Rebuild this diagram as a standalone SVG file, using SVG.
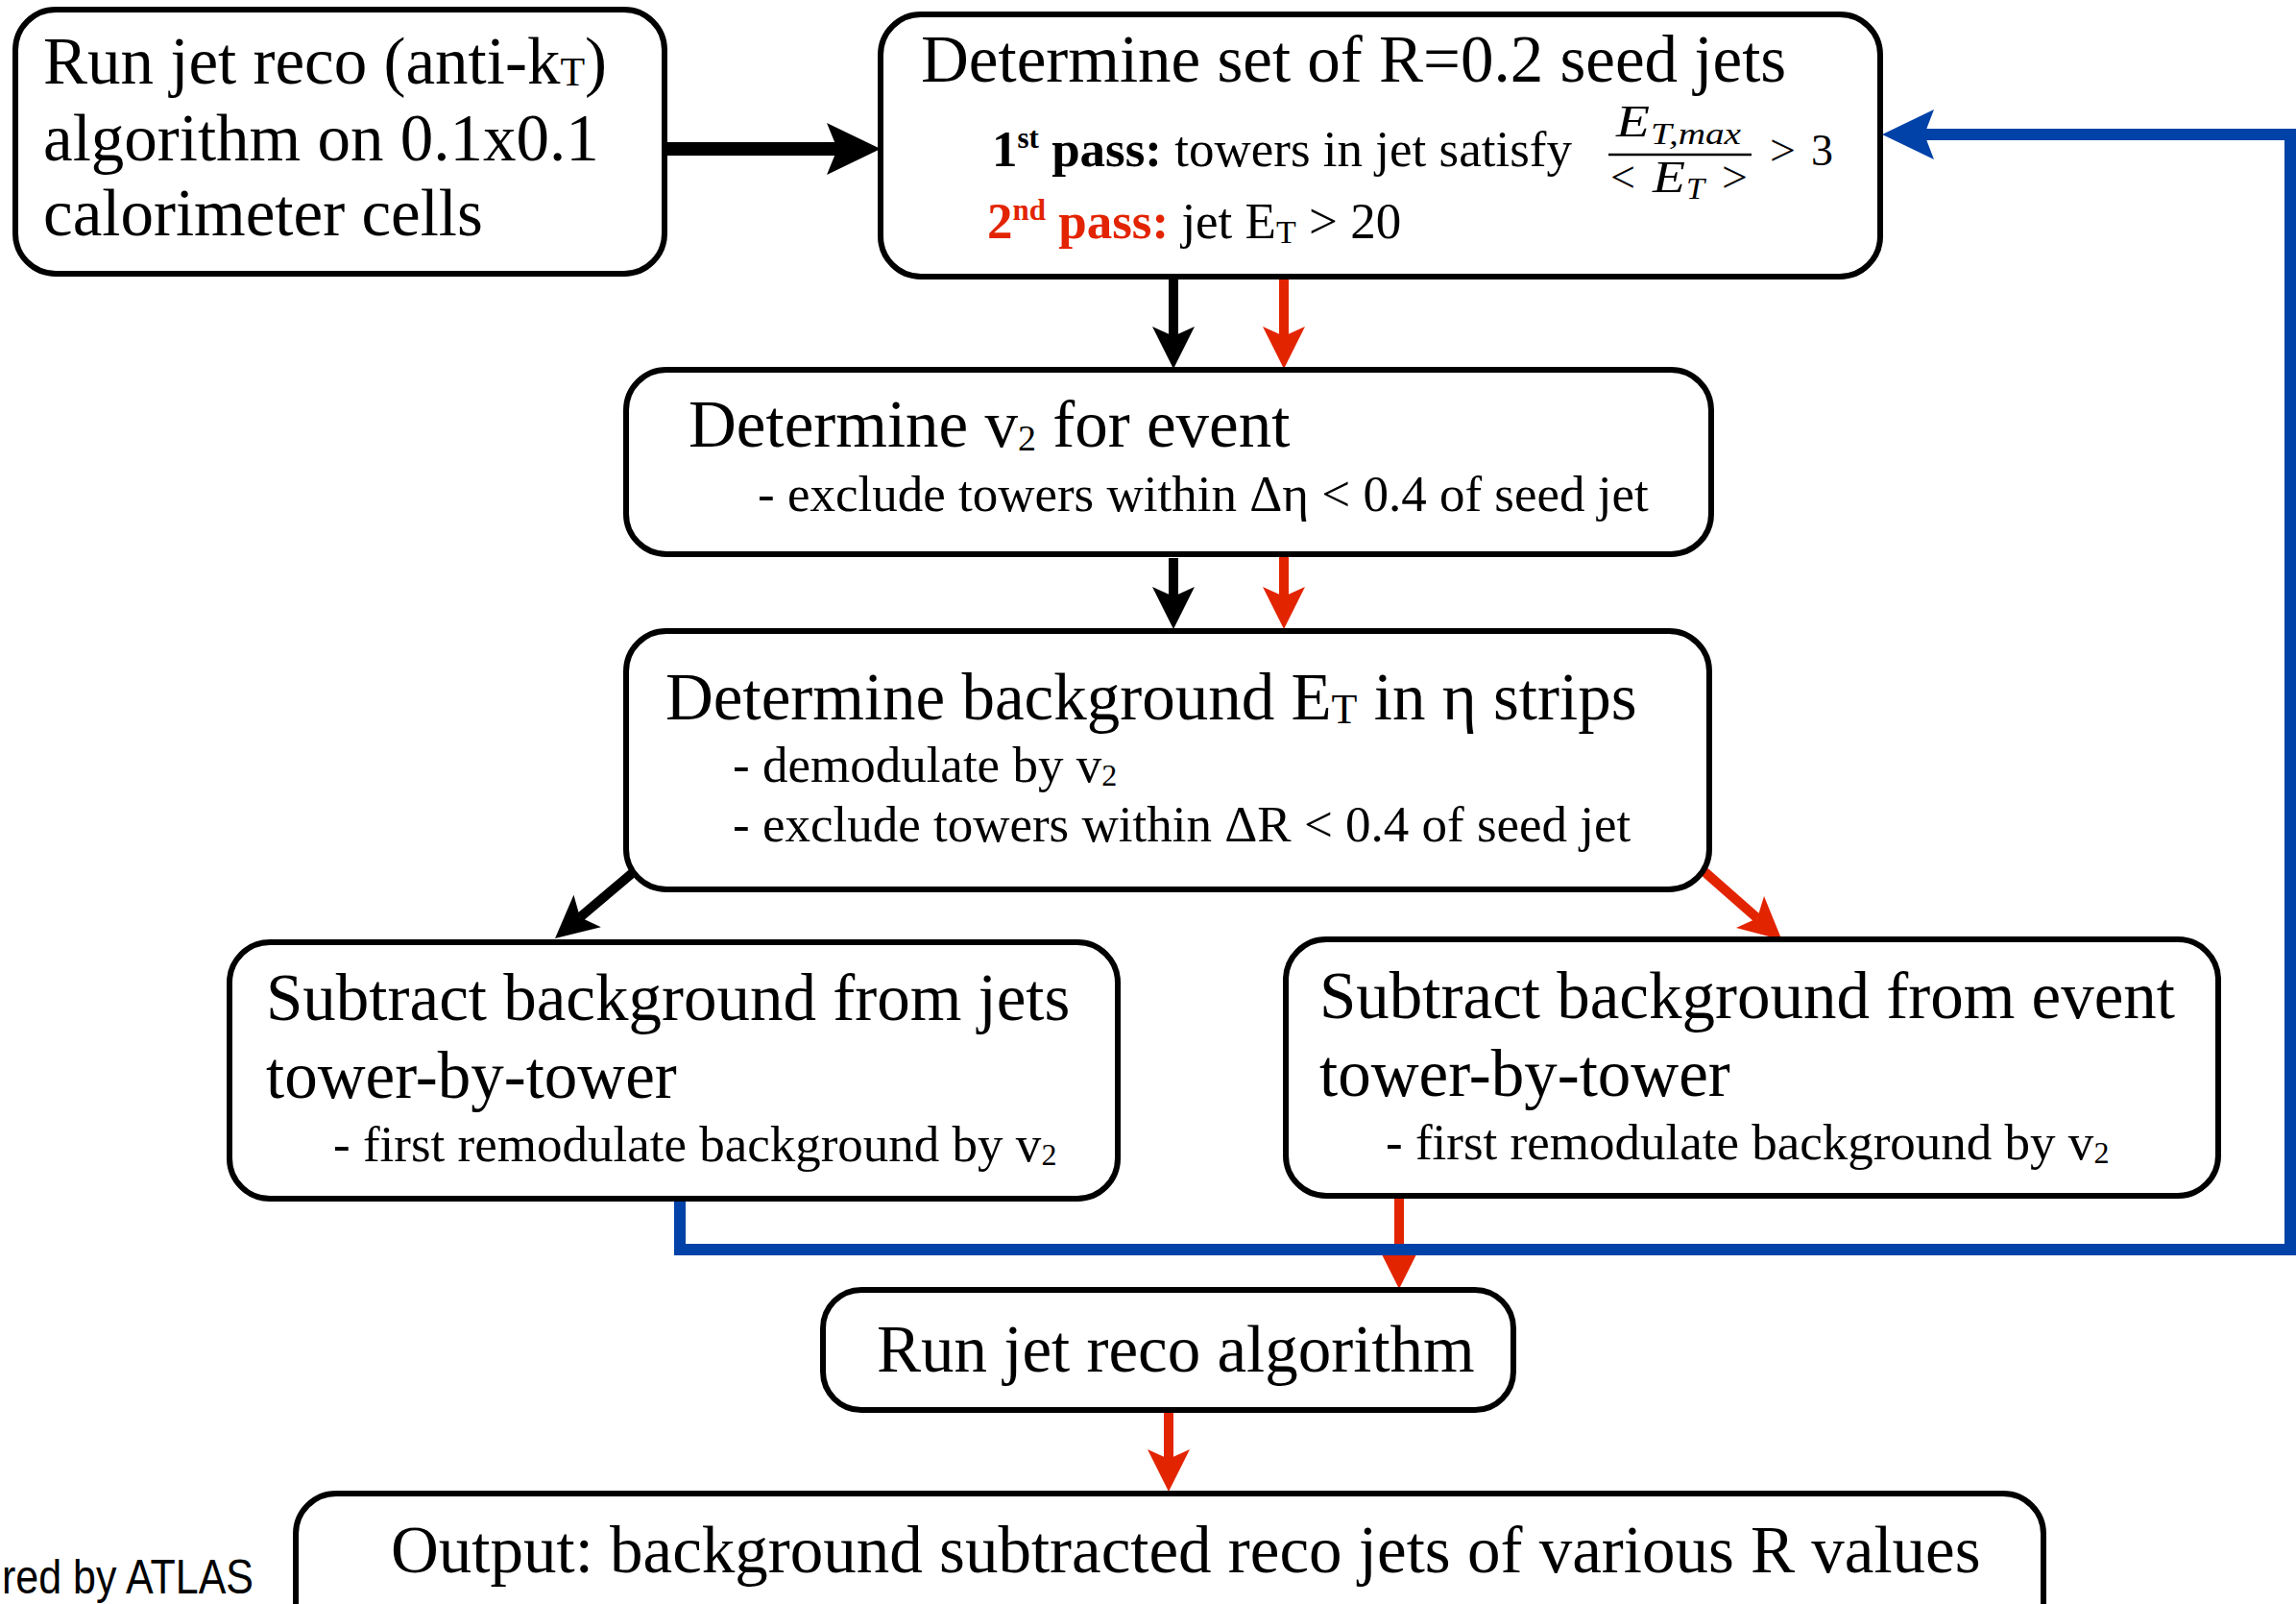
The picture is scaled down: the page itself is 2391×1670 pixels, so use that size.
<svg xmlns="http://www.w3.org/2000/svg" width="2391" height="1670" viewBox="0 0 2391 1670">
<style>
.box{fill:#fff;stroke:#000;stroke-width:6}
.t{font-family:"Liberation Serif","Times New Roman",serif;font-size:69px;fill:#000}
.s{font-family:"Liberation Serif","Times New Roman",serif;font-size:53px;fill:#000}
.m{font-family:"Liberation Serif","Times New Roman",serif;font-size:46px;fill:#000}
.ms{font-family:"Liberation Serif","Times New Roman",serif;font-size:32px;fill:#000;font-style:italic}
.mi{font-style:italic}
.b{font-weight:bold}
.red{fill:#e32400}
.ck{fill:none;stroke:#000;stroke-width:10}
.cr{fill:none;stroke:#e32400;stroke-width:10}
.cb{fill:none;stroke:#0042a8;stroke-width:12}
</style>
<defs>
<marker id="ahK" viewBox="-12 -24 48 48" markerWidth="48" markerHeight="48" refX="0" refY="0" orient="auto" markerUnits="userSpaceOnUse"><path d="M-10,-22 L34,0 L-10,22 L0,0 Z" fill="#000"/></marker>
<marker id="ahR" viewBox="-12 -24 48 48" markerWidth="48" markerHeight="48" refX="0" refY="0" orient="auto" markerUnits="userSpaceOnUse"><path d="M-10,-22 L34,0 L-10,22 L0,0 Z" fill="#e32400"/></marker>
<marker id="ahKB" viewBox="-13 -29 60 58" markerWidth="60" markerHeight="58" refX="0" refY="0" orient="auto" markerUnits="userSpaceOnUse"><path d="M-11,-27 L45,0 L-11,27 L0,0 Z" fill="#000"/></marker>
<marker id="ahB" viewBox="-12 -28 58 56" markerWidth="58" markerHeight="56" refX="0" refY="0" orient="auto" markerUnits="userSpaceOnUse"><path d="M-10,-26 L44,0 L-10,26 L0,0 Z" fill="#0042a8"/></marker>
</defs>
<rect width="2391" height="1670" fill="#fff"/>

<g id="connectors">
<path class="ck" style="stroke-width:14" d="M692,155 H872" marker-end="url(#ahKB)"/>
<path class="ck" d="M1222,291 V350" marker-end="url(#ahK)"/>
<path class="cr" d="M1337,291 V350" marker-end="url(#ahR)"/>
<path class="ck" d="M1222,581 V621" marker-end="url(#ahK)"/>
<path class="cr" d="M1337,579 V621" marker-end="url(#ahR)"/>
<path class="ck" d="M662,906 L604,955" marker-end="url(#ahK)"/>
<path class="cr" d="M1772,905 L1830,956" marker-end="url(#ahR)"/>
<path class="cr" d="M1457,1248 V1308" marker-end="url(#ahR)"/>
<path class="cr" d="M1217,1470 V1519" marker-end="url(#ahR)"/>
<path class="cb" d="M708,1246 V1301 H2385 V140 H2004" marker-end="url(#ahB)"/>
</g>

<g id="node-run-initial">
<rect class="box" x="16" y="10" width="676" height="275" rx="42"/>
<text class="t" x="45" y="87">Run jet reco (anti-k<tspan font-size="42" dy="2">T</tspan><tspan dy="-2">)</tspan></text>
<text class="t" x="45" y="167">algorithm on 0.1x0.1</text>
<text class="t" x="45" y="245">calorimeter cells</text>
</g>

<g id="node-seed-jets">
<rect class="box" x="917" y="15" width="1041" height="273" rx="42"/>
<text class="t" x="959" y="85">Determine set of R=0.2 seed jets</text>
<text class="s" x="1033" y="173"><tspan class="b">1</tspan><tspan class="b" font-size="31" dy="-19">st</tspan><tspan class="b" dy="19"> pass:</tspan> towers in jet satisfy</text>
<text class="m mi" x="1683" y="142" textLength="35" lengthAdjust="spacingAndGlyphs">E</text>
<text class="ms" x="1719" y="150" textLength="94" lengthAdjust="spacingAndGlyphs">T,max</text>
<line x1="1675" y1="161" x2="1824" y2="161" stroke="#000" stroke-width="2.5"/>
<text class="m" x="1677" y="200" textLength="26" lengthAdjust="spacingAndGlyphs">&lt;</text>
<text class="m mi" x="1721" y="200" textLength="34" lengthAdjust="spacingAndGlyphs">E</text>
<text class="ms" x="1756" y="207" textLength="19" lengthAdjust="spacingAndGlyphs">T</text>
<text class="m" x="1793" y="200" textLength="27" lengthAdjust="spacingAndGlyphs">&gt;</text>
<text class="m" x="1843" y="172" textLength="27" lengthAdjust="spacingAndGlyphs">&gt;</text>
<text class="m" x="1886" y="172">3</text>
<text class="s" x="1028" y="248"><tspan class="b red">2</tspan><tspan class="b red" font-size="31" dy="-19">nd</tspan><tspan class="b red" dy="19"> pass:</tspan> jet E<tspan font-size="34" dy="5">T</tspan><tspan dy="-5"> &gt; 20</tspan></text>
</g>

<g id="node-v2">
<rect class="box" x="652" y="385" width="1130" height="192" rx="42"/>
<text class="t" x="717" y="465">Determine v<tspan font-size="38" dy="4">2</tspan><tspan dy="-4"> for event</tspan></text>
<text class="s" x="789" y="532">- exclude towers within Δη &lt; 0.4 of seed jet</text>
</g>

<g id="node-background">
<rect class="box" x="652" y="657" width="1128" height="269" rx="42"/>
<text class="t" x="693" y="749">Determine background E<tspan font-size="44" dy="4">T</tspan><tspan dy="-4"> in η strips</tspan></text>
<text class="s" x="763" y="814">- demodulate by v<tspan font-size="32" dy="4">2</tspan></text>
<text class="s" x="763" y="876">- exclude towers within ΔR &lt; 0.4 of seed jet</text>
</g>

<g id="node-sub-jets">
<rect class="box" x="239" y="981" width="925" height="267" rx="42"/>
<text class="t" x="277" y="1062">Subtract background from jets</text>
<text class="t" x="277" y="1143">tower-by-tower</text>
<text class="s" x="347" y="1209">- first remodulate background by v<tspan font-size="32" dy="4">2</tspan></text>
</g>

<g id="node-sub-event">
<rect class="box" x="1339" y="978" width="971" height="267" rx="42"/>
<text class="t" x="1374" y="1060">Subtract background from event</text>
<text class="t" x="1374" y="1141">tower-by-tower</text>
<text class="s" x="1443" y="1207">- first remodulate background by v<tspan font-size="32" dy="4">2</tspan></text>
</g>

<g id="node-run-reco">
<rect class="box" x="857" y="1343" width="719" height="125" rx="40"/>
<text class="t" x="913" y="1428">Run jet reco algorithm</text>
</g>

<g id="node-output">
<rect class="box" x="308" y="1555" width="1820" height="160" rx="42"/>
<text class="t" x="407" y="1637">Output: background subtracted reco jets of various R values</text>
</g>

<text x="2" y="1659" font-family="'Liberation Sans',Arial,sans-serif" font-size="50" textLength="262" lengthAdjust="spacingAndGlyphs" fill="#000">red by ATLAS</text>
</svg>
